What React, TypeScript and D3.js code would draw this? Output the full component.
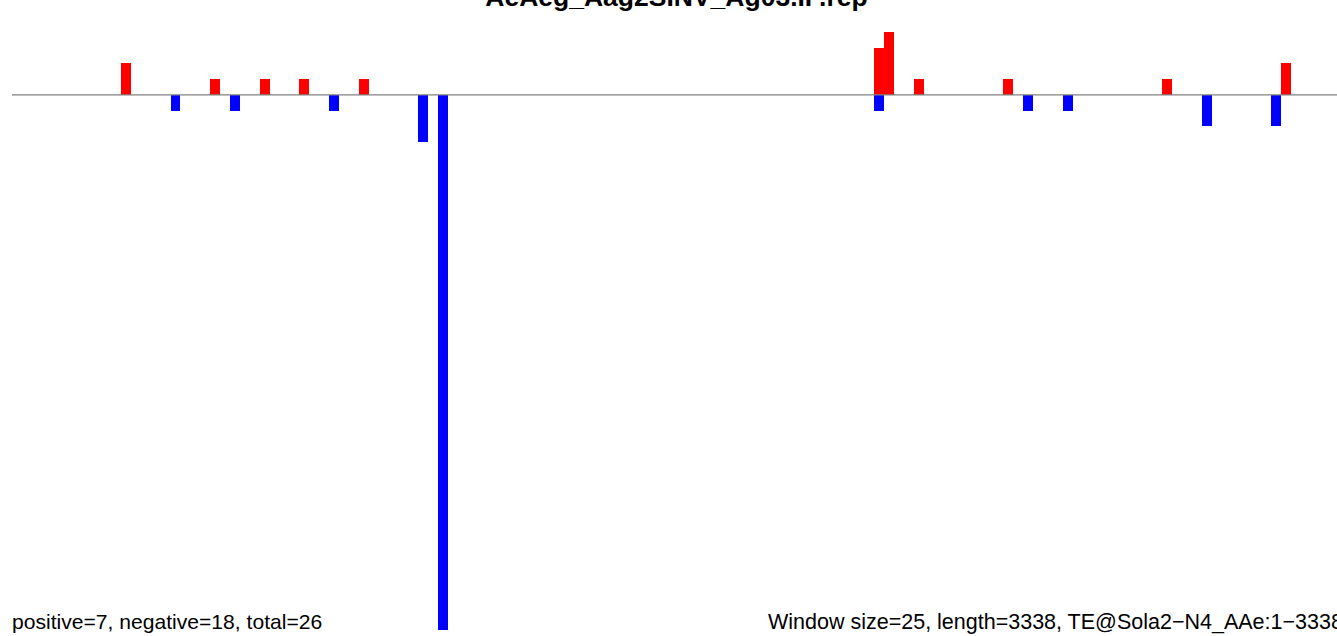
import React from "react";
import * as d3 from "d3";

const title = "AeAeg_Aag2SINV_Ag03.IP.rep";
const leftNote = "positive=7, negative=18, total=26";
const rightNote = "Window size=25, length=3338, TE@Sola2\u2212N4_AAe:1\u22123338";

const windowSize = 25;
const seqLength = 3338;

// window start positions (bp) and values
const positiveStarts = [275, 500, 625, 725, 875, 2175, 2200, 2275, 2500, 2900, 3200];
const positiveValues = [2, 1, 1, 1, 1, 3, 4, 1, 1, 1, 2];

const negativeStarts = [400, 550, 800, 1025, 1075, 2175, 2550, 2650, 3000, 3175];
const negativeValues = [1, 1, 1, 3, 34, 1, 1, 1, 2, 2];

const yDomain: [number, number] = [-34, 4];

export default function App() {
  const W = 1337;
  const H = 636;
  const x = d3.scaleLinear().domain([0, seqLength]).range([11.9, 1335.7]);
  const y = d3.scaleLinear().domain(yDomain).range([630, 32]);
  const bw = x(windowSize) - x(0);

  const pos = positiveStarts.map((s, i) => ({ s, v: positiveValues[i] }));
  const neg = negativeStarts.map((s, i) => ({ s, v: -negativeValues[i] }));

  return (
    <svg
      width={W}
      height={H}
      style={{ position: "absolute", left: 0, top: 0, background: "#fff" }}
      fontFamily="'Liberation Sans', Arial, Helvetica, sans-serif"
    >
      {pos.map((d, i) => (
        <rect
          key={"p" + i}
          x={x(d.s)}
          y={y(d.v)}
          width={bw}
          height={y(0) - y(d.v)}
          fill="#ff0000"
          shapeRendering="crispEdges"
        />
      ))}
      {neg.map((d, i) => (
        <rect
          key={"n" + i}
          x={x(d.s)}
          y={y(0)}
          width={bw}
          height={y(d.v) - y(0)}
          fill="#0000ff"
          shapeRendering="crispEdges"
        />
      ))}
      <line x1={12} x2={W} y1={y(0)} y2={y(0)} stroke="#808080" strokeWidth={1.3} />
      <text x={676.5} y={6} textAnchor="middle" fontWeight="bold" fontSize={26.5} fill="#000">
        {title}
      </text>
      <text x={12} y={629} fontSize={21.1} fill="#000">
        {leftNote}
      </text>
      <text x={768} y={629} fontSize={21.5} fill="#000">
        {rightNote}
      </text>
    </svg>
  );
}
